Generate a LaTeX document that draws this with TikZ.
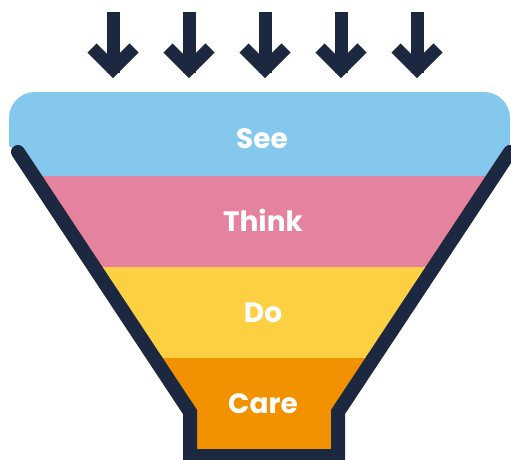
\documentclass[tikz,border=0pt]{standalone}
\usepackage{fontspec}
\setmainfont{Poppins}
\definecolor{navy}{HTML}{1B2840}
\definecolor{seeblue}{HTML}{85C8EE}
\definecolor{thinkpink}{HTML}{E5829E}
\definecolor{doyellow}{HTML}{FDD044}
\definecolor{careorange}{HTML}{F29200}
\tikzset{
  shaft/.style={navy, line width=13pt, line cap=butt},
  chevron/.style={navy, line width=13pt, line cap=butt, line join=miter},
  funnelline/.style={navy, line width=14pt, line cap=round, line join=miter},
  label/.style={text=white, font=\bfseries\fontsize{28}{28}\selectfont, anchor=base, inner sep=0pt}
}
\begin{document}
\begin{tikzpicture}[x=1pt,y=-1pt]
\useasboundingbox (0,0) rectangle (511,460);
% funnel points
\coordinate (tl) at (18,152);
\coordinate (bl) at (190,412);
\coordinate (fl) at (190,456);
\coordinate (fr) at (338,456);
\coordinate (br) at (338,412);
\coordinate (tr) at (510,152);
% bands
\begin{scope}
  \clip (0,0) -- (530,0) -- (530,140) -- (tr) -- (br) -- (fr) -- (fl) -- (bl) -- (tl) -- (0,140) -- cycle;
  \fill[careorange] (0,358) rectangle (530,480);
  \fill[doyellow] (0,267) rectangle (530,358);
  \fill[thinkpink] (0,176) rectangle (530,267);
  \fill[seeblue, rounded corners=26pt] (9,176) -- (9,92) -- (510,92) -- (510,176) -- cycle;
\end{scope}
\draw[funnelline] (tl) -- (bl) -- (fl) -- (fr) -- (br) -- (tr);
% arrows
\foreach \x [count=\i] in {113,189,265,341,417} {
  \coordinate (a\i top) at (\x,12);
  \coordinate (a\i tip) at (\x,69);
  \draw[shaft] (a\i top) -- ([yshift=-4pt]a\i tip);
  \draw[chevron] ([xshift=-21pt,yshift=21pt]a\i tip) -- (a\i tip) -- ([xshift=21pt,yshift=21pt]a\i tip);
}
% labels
\node[label] (see) at (262,148) {See};
\node[label] (think) at (263,231) {Think};
\node[label] (do) at (263,322) {Do};
\node[label] (care) at (263,413) {Care};
\end{tikzpicture}
\end{document}
